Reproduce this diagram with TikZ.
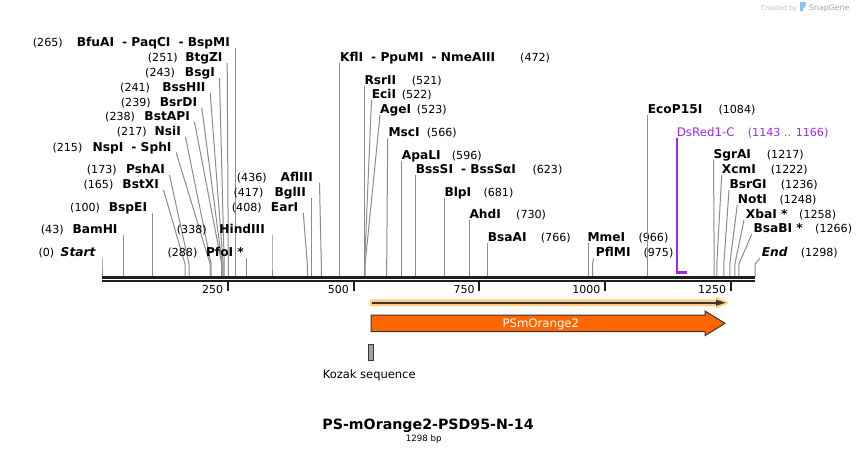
\documentclass[tikz,border=0pt]{standalone}
\usepackage{fontspec}
\setmainfont{DejaVu Sans}
\usetikzlibrary{arrows.meta}
\definecolor{cutgray}{RGB}{140,140,140}
\definecolor{dsred}{RGB}{160,40,240}
\definecolor{orng}{RGB}{255,102,0}
\definecolor{glowc}{RGB}{255,204,128}
\definecolor{axisblack}{RGB}{30,30,30}
\definecolor{darkline}{RGB}{55,55,55}
\definecolor{kozgray}{RGB}{160,160,160}
\definecolor{logoblue}{RGB}{130,195,240}
\tikzset{
  nm/.style={font=\fontsize{12.2}{14}\selectfont\bfseries, inner sep=0pt},
  num/.style={font=\fontsize{11.1}{13}\selectfont, inner sep=0pt},
  cutline/.style={draw=cutgray, line width=1pt},
  ticklab/.style={font=\fontsize{11}{13}\selectfont, inner sep=0pt, anchor=base east},
}
\newcommand\enzleft[8]{%
  \node[num,anchor=base west] (#1n) at (#3,#6+4.4) {#2};
  \node[nm,anchor=base east] (#1) at (#5,#6+4.4) {#4};
  \coordinate (#1s) at (#7,#6+6);
  \coordinate (#1k) at (#8,264);
  \coordinate (#1a) at (#8,277);
  \draw[cutline] (#1s) -- (#1k) -- (#1a);}
\newcommand\enzright[8]{%
  \node[nm,anchor=base west] (#1) at (#3,#6+4.4) {#2};
  \node[num,anchor=base west] (#1n) at (#5,#6+4.4) {#4};
  \coordinate (#1s) at (#7,#6+6);
  \coordinate (#1k) at (#8,264);
  \coordinate (#1a) at (#8,277);
  \draw[cutline] (#1s) -- (#1k) -- (#1a);}
\begin{document}
\begin{tikzpicture}[x=1pt,y=-1pt]
\path[fill=white,use as bounding box] (0,0) rectangle (858,455);

% logo
\node[font=\fontsize{6.6}{8}\selectfont, text=black!25, inner sep=0pt, anchor=base west] (crby) at (760.7,10.3) {Created by};
\fill[logoblue] (800,2) -- (805.6,2) -- (805.6,7) -- (802.8,8) -- (802.8,11) -- (800,11) -- cycle;
\node[font=\fontsize{7.8}{9}\selectfont, text=black!35, inner sep=0pt, anchor=base west] (sg) at (809,10.6) {SnapGene};

% left labels
\enzleft{e265}{(265)}{32.7}{BfuAI\hspace{8pt}- PaqCI\hspace{8pt}- BspMI}{230}{42}{235.3}{235.3}
\enzleft{e251}{(251)}{147.7}{BtgZI}{222.7}{57}{227.2}{228.3}
\enzleft{e243}{(243)}{145}{BsgI}{215}{72}{219.5}{224.2}
\enzleft{e241}{(241)}{120}{BssHII}{205.7}{87}{210.2}{223.2}
\enzleft{e239}{(239)}{120.7}{BsrDI}{197.3}{101.7}{201.8}{222.2}
\enzleft{e238}{(238)}{105}{BstAPI}{190}{116}{194.5}{221.7}
\enzleft{e217}{(217)}{116.7}{NsiI}{181}{131}{185.5}{211.2}
\enzleft{e215}{(215)}{52.3}{NspI\hspace{8pt}- SphI}{171.7}{146.7}{176.2}{210.2}
\enzleft{e173}{(173)}{86.7}{PshAI}{165}{169}{169.5}{189}
\enzleft{e165}{(165)}{83.3}{BstXI}{159}{184}{163.5}{185}
\enzleft{e100}{(100)}{70}{BspEI}{147.3}{206.7}{152.3}{152.3}
\enzleft{e43}{(43)}{40.7}{BamHI}{117.7}{229}{123.6}{123.6}
\enzleft{e0}{(0)}{38.3}{\textit{Start}}{96}{251.7}{102}{102}
\enzleft{e338}{(338)}{176.7}{HindIII}{265}{229}{272}{272}
\enzleft{e288}{(288)}{167.3}{PfoI *}{244}{251.7}{246.9}{246.9}
\enzleft{e436}{(436)}{236.7}{AflIII}{313}{176.7}{319.5}{321.3}
\enzleft{e417}{(417)}{233.3}{BglII}{306}{191.7}{311.8}{311.8}
\enzleft{e408}{(408)}{231.7}{EarI}{298.3}{206.7}{303.3}{307.3}

% right labels
\enzright{r472}{KflI\hspace{8pt}- PpuMI\hspace{8pt}- NmeAIII}{340}{(472)}{520}{56.7}{339.5}{339.5}
\enzright{r521}{RsrII}{364.3}{(521)}{411.7}{80}{364.1}{364.1}
\enzright{r522}{EciI}{371.7}{(522)}{401.7}{94}{371.5}{364.6}
\enzright{r523}{AgeI}{380}{(523)}{416.7}{109}{380}{365.1}
\enzright{r566}{MscI}{388.3}{(566)}{426.7}{132.3}{387.7}{386.7}
\enzright{r596}{ApaLI}{401.7}{(596)}{451.7}{155}{401.8}{401.8}
\enzright{r623}{BssSI\hspace{8pt}- BssSαI}{415.7}{(623)}{532.3}{169}{415.4}{415.4}
\enzright{r681}{BlpI}{444.3}{(681)}{483.3}{192.3}{444.6}{444.6}
\enzright{r730}{AhdI}{469.3}{(730)}{516}{214}{469.2}{469.2}
\enzright{r766}{BsaAI}{487.7}{(766)}{540.7}{237.3}{487.4}{487.4}
\enzright{r966}{MmeI}{587.3}{(966)}{638.3}{236.7}{588}{588}
\enzright{r975}{PflMI}{595.7}{(975)}{643.3}{252.3}{593.5}{592.5}
\enzright{r1084}{EcoP15I}{647.7}{(1084)}{718.3}{109}{647.3}{647.3}
\enzright{r1217}{SgrAI}{713.3}{(1217)}{766.7}{154}{713.5}{714.2}
\enzright{r1222}{XcmI}{721.7}{(1222)}{770.7}{169.3}{721.7}{716.8}
\enzright{r1236}{BsrGI}{729.3}{(1236)}{780.7}{184}{729}{723.8}
\enzright{r1248}{NotI}{737.7}{(1248)}{779.3}{198.7}{737.3}{729.8}
\enzright{r1258}{XbaI *}{745.7}{(1258)}{799}{214}{744}{734.9}
\enzright{r1266}{BsaBI *}{753.3}{(1266)}{815}{228.3}{751.7}{738.9}
\enzright{r1298}{\textit{End}}{761.7}{(1298)}{800.7}{252.3}{760}{755}

% DsRed1-C feature
\node[font=\fontsize{11.8}{14}\selectfont, text=dsred, inner sep=0pt, anchor=base west] (ds) at (676.7,136.7) {DsRed1-C};
\node[font=\fontsize{11.1}{13}\selectfont, text=dsred, inner sep=0pt, anchor=base west] (dsn) at (747.7,136.7) {(1143 .. 1166)};
\coordinate (dstop) at (677,138.3);
\coordinate (dsbot) at (677,272.5);
\coordinate (dsend) at (687,272.5);
\draw[dsred, line width=1.6pt] (dstop) -- (dsbot);
\draw[dsred, line width=2.6pt] ([xshift=-0.8pt]dsbot) -- (dsend);

% axis
\coordinate (ax0) at (102,277.5);
\coordinate (ax1) at (755,277.5);
\draw[axisblack, line width=3pt] (ax0) -- (ax1);
\draw[axisblack, line width=2pt] (102,281.3) -- (755,281.3);
\foreach \tx/\tl in {227.8/250, 353.5/500, 479.3/750, 605.1/1000, 730.9/1250}{
  \draw[axisblack, line width=2pt] (\tx,282) -- (\tx,290.5);
  \node[ticklab] (t\tl) at (\tx-4.5,293.2) {\tl};
}

% thin feature arrow
\fill[glowc] (370,299.3) -- (716,299.3) -- (716,296.8) -- (729,302.7) -- (716,308.6) -- (716,306.1) -- (370,306.1) -- cycle;
\draw[darkline, line width=1.8pt] (372,302.7) -- (717,302.7);
\fill[darkline] (716,299.6) -- (725.5,302.7) -- (716,305.8) -- cycle;

% PSmOrange2 arrow
\draw[fill=orng, draw=darkline, line width=1pt] (371,315) -- (705,315) -- (705,311) -- (725,323.3) -- (705,335.7) -- (705,331.7) -- (371,331.7) -- cycle;
\node[font=\fontsize{11.7}{14}\selectfont, text=white, inner sep=0pt, anchor=base] (pso) at (540.8,327.4) {PSmOrange2};

% Kozak
\draw[fill=kozgray, draw=darkline, line width=0.8pt] (368.3,344) rectangle (373.3,360.7);
\node[font=\fontsize{11.5}{14}\selectfont, inner sep=0pt, anchor=base] (koz) at (369.2,378) {Kozak sequence};

% title
\node[font=\fontsize{14.2}{17}\selectfont\bfseries, inner sep=0pt, anchor=base] (title) at (428,429.5) {PS-mOrange2-PSD95-N-14};
\node[font=\fontsize{8.7}{10}\selectfont, inner sep=0pt, anchor=base] (bp) at (423.8,441.5) {1298 bp};
\end{tikzpicture}
\end{document}
